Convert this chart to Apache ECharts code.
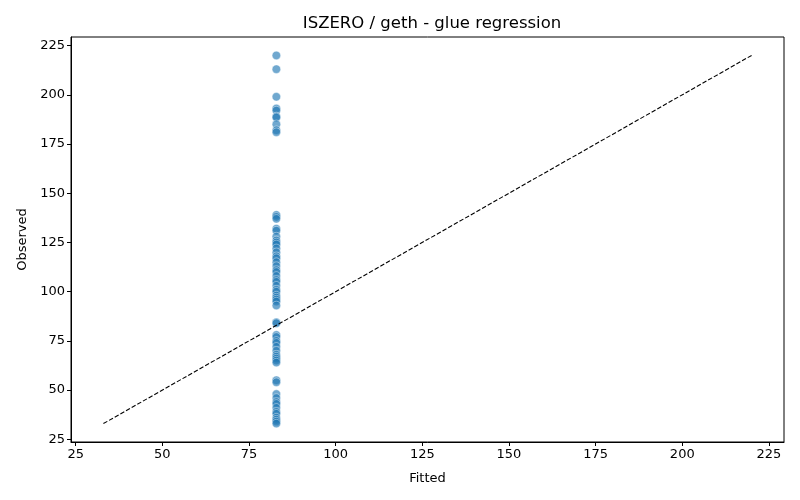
<!DOCTYPE html>
<html><head><meta charset="utf-8">
<script src="https://cdn.jsdelivr.net/npm/echarts@6/dist/echarts.min.js"></script>
<style>html,body{margin:0;padding:0;background:#fff}#c{width:800px;height:500px}</style>
</head><body><div id="c"></div>
<script>
const fittedValue = 82.9;
const observed = [220, 213, 199, 193, 192, 189, 188.5, 185, 182, 181,
  139, 138, 137, 132, 131, 128, 126, 125, 124, 122, 120, 118, 117, 115, 113, 111, 110, 108, 106, 105, 103, 101, 100, 98, 97, 96, 95, 93,
  84.5, 84,
  78, 77, 75, 74, 72, 70, 68, 67, 66, 65, 64,
  55, 54, 48, 46, 44, 43, 41, 39, 38, 36, 35, 34, 33];
const refLine = [33, 220];
const tickValues = [25, 50, 75, 100, 125, 150, 175, 200, 225];
const axisMin = 23.65, axisMax = 229.35;

const points = observed.map(v => [fittedValue, v]);
const font = 'DejaVu Sans';
function axis(name, gap) {
  return {
    type: 'value', min: axisMin, max: axisMax,
    name: name, nameLocation: 'middle', nameGap: gap,
    nameTextStyle: {color: '#000', fontSize: 13, fontFamily: font},
    axisLine: {show: true, onZero: false, lineStyle: {color: '#000', width: 1}},
    axisTick: {show: true, length: 4, lineStyle: {color: '#000'}, customValues: tickValues},
    axisLabel: {color: '#000', fontSize: 13, fontFamily: font, margin: 6, customValues: tickValues},
    splitLine: {show: false}
  };
}
const chart = echarts.init(document.getElementById('c'));
chart.setOption({
  animation: false,
  title: {text: 'ISZERO / geth - glue regression', left: 427, textAlign: 'center', top: 10,
    textStyle: {color: '#000', fontSize: 16.5, fontWeight: 'normal', fontFamily: font}},
  grid: {left: 71, right: 16, top: 37, bottom: 58, show: true, borderColor: '#000', borderWidth: 1, backgroundColor: 'transparent'},
  xAxis: axis('Fitted', 30),
  yAxis: axis('Observed', 42),
  series: [
    {type: 'line', data: refLine.map(v => [v, v]), symbol: 'none', z: 3,
      lineStyle: {color: '#000', width: 1.1, type: [4.5, 2]}},
    {type: 'scatter', data: points, symbolSize: 8.5, z: 2,
      itemStyle: {color: 'rgba(31,119,180,0.8)', borderColor: 'rgba(255,255,255,0.85)', borderWidth: 0.6}}
  ]
});
</script></body></html>
